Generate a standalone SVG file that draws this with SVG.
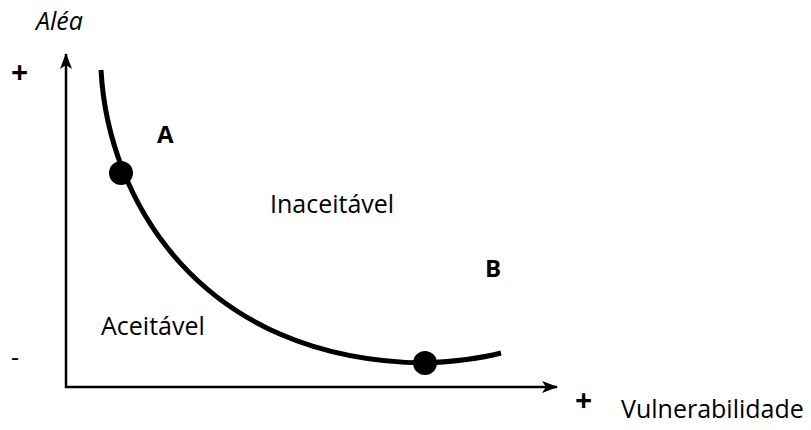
<svg xmlns="http://www.w3.org/2000/svg" width="811" height="430" viewBox="0 0 811 430">
<style>
text{font-family:"Open Sans","Liberation Sans",sans-serif;fill:#000}
.lbl{font-size:25px}
.b{font-size:24px;font-weight:bold}
.pl{font-size:30px;font-weight:bold}
.ax{stroke:#000;stroke-width:2.5;fill:none}
</style>
<defs>
<marker id="ah" viewBox="0 0 16 12" refX="15" refY="6" markerWidth="16" markerHeight="12" markerUnits="userSpaceOnUse" orient="auto">
<path d="M0,0 L16,6 L0,12 L4,6 Z" fill="#000"/>
</marker>
</defs>
<rect width="811" height="430" fill="#fff"/>
<g id="connectors">
<path class="ax" d="M66,388 L66,54" marker-end="url(#ah)"/>
<path class="ax" d="M65,387 L557,387" marker-end="url(#ah)"/>
<path d="M101,70 C 108,200 200,360 425,363 Q 470,361 501,353" stroke="#000" stroke-width="5" fill="none"/>
</g>
<g id="pointA"><circle cx="121" cy="173" r="12"/></g>
<g id="pointB"><circle cx="425" cy="363" r="12"/></g>
<g id="labels">
<text class="lbl" x="36" y="30" font-style="italic" font-size="24">Aléa</text>
<text class="pl" x="11" y="83">+</text>
<text class="b" x="157" y="143">A</text>
<text class="lbl" x="270" y="213">Inaceitável</text>
<text class="b" x="485" y="277">B</text>
<text class="lbl" x="101" y="335">Aceitável</text>
<text class="lbl" x="11" y="366">-</text>
<text class="pl" x="575" y="411">+</text>
<text class="lbl" x="621" y="418">Vulnerabilidade</text>
</g>
</svg>
